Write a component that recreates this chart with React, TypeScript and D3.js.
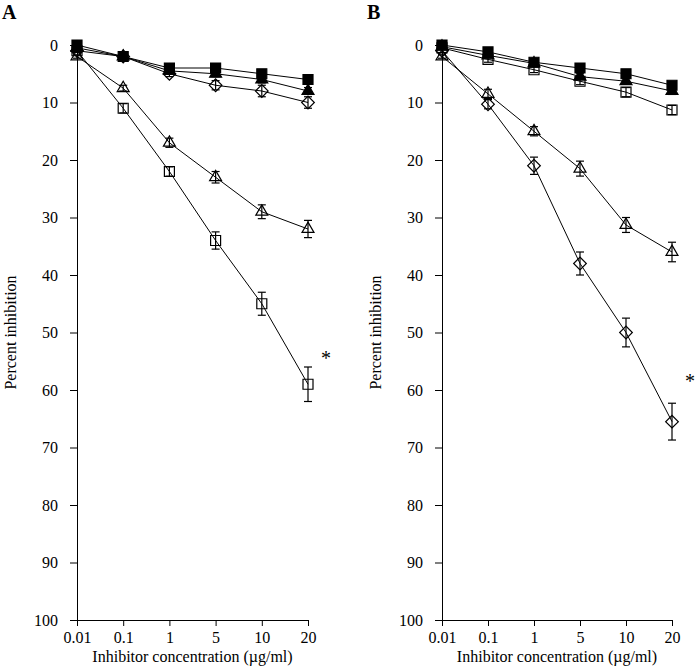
import { useEffect, useRef } from 'react'
import * as d3 from 'd3'

const concentrations = ['0.01', '0.1', '1', '5', '10', '20']
const yTicks = [0, 10, 20, 30, 40, 50, 60, 70, 80, 90, 100]

// Panel A
const aFilledSquare = [0, 2, 4, 4, 5, 6]
const aFilledSquareErr = [0.3, 0.3, 0.3, 0.3, 0.4, 0.4]
const aFilledTriangle = [0.5, 2, 4.5, 5, 6, 8]
const aFilledTriangleErr = [0.3, 0.3, 0.4, 0.5, 0.6, 0.6]
const aOpenDiamond = [1, 2, 5, 7, 8, 10]
const aOpenDiamondErr = [0.2, 0.5, 0.5, 0.8, 1, 1]
const aOpenTriangle = [2, 7.5, 17, 23, 29, 32]
const aOpenTriangleErr = [0.3, 0.5, 0.8, 1, 1.2, 1.5]
const aOpenSquare = [1, 11, 22, 34, 45, 59]
const aOpenSquareErr = [0.3, 0.8, 0.8, 1.5, 2, 3]

// Panel B
const bFilledSquare = [0, 1.2, 3, 4, 5, 7]
const bFilledSquareErr = [0.3, 0.3, 0.3, 0.4, 0.4, 0.5]
const bFilledTriangle = [0.3, 1.8, 3.2, 5.5, 6.3, 8]
const bFilledTriangleErr = [0.3, 0.3, 0.4, 0.5, 0.5, 0.6]
const bOpenSquare = [0.5, 2.5, 4.3, 6.3, 8.2, 11.3]
const bOpenSquareErr = [0.2, 0.5, 0.5, 0.6, 0.8, 0.8]
const bOpenTriangle = [2, 8.5, 15, 21.5, 31.3, 36]
const bOpenTriangleErr = [0.3, 0.8, 0.8, 1.3, 1.3, 1.7]
const bOpenDiamond = [1, 10.3, 21, 38, 50, 65.5]
const bOpenDiamondErr = [0.3, 0.8, 1.5, 2, 2.5, 3.2]

type Marker = 'square' | 'triangle' | 'diamond'
interface Series {
  values: number[]
  err: number[]
  marker: Marker
  filled: boolean
}

const panels = [
  {
    label: 'A',
    x0: 77,
    x1: 308,
    star: 54,
    series: [
      { values: aOpenSquare, err: aOpenSquareErr, marker: 'square', filled: false },
      { values: aOpenTriangle, err: aOpenTriangleErr, marker: 'triangle', filled: false },
      { values: aOpenDiamond, err: aOpenDiamondErr, marker: 'diamond', filled: false },
      { values: aFilledTriangle, err: aFilledTriangleErr, marker: 'triangle', filled: true },
      { values: aFilledSquare, err: aFilledSquareErr, marker: 'square', filled: true },
    ] as Series[],
  },
  {
    label: 'B',
    x0: 442,
    x1: 672,
    star: 58,
    series: [
      { values: bOpenDiamond, err: bOpenDiamondErr, marker: 'diamond', filled: false },
      { values: bOpenTriangle, err: bOpenTriangleErr, marker: 'triangle', filled: false },
      { values: bOpenSquare, err: bOpenSquareErr, marker: 'square', filled: false },
      { values: bFilledTriangle, err: bFilledTriangleErr, marker: 'triangle', filled: true },
      { values: bFilledSquare, err: bFilledSquareErr, marker: 'square', filled: true },
    ] as Series[],
  },
]

const W = 696
const H = 671
const top = 45
const bottom = 620
const font = '"Liberation Serif", "DejaVu Serif", serif'

export default function App() {
  const ref = useRef<SVGSVGElement>(null)

  useEffect(() => {
    if (!ref.current) return
    const svg = d3.select(ref.current)
    svg.selectAll('*').remove()

    const y = d3.scaleLinear().domain([0, 100]).range([top, bottom])

    panels.forEach((p) => {
      const x = d3.scalePoint<string>().domain(concentrations).range([p.x0, p.x1]).padding(0)
      const g = svg.append('g')

      // Y axis
      const ya = g
        .append('g')
        .attr('transform', `translate(${p.x0},0)`)
        .call(d3.axisLeft(y).tickValues(yTicks).tickSize(7).tickPadding(12).tickSizeOuter(0))
      ya.select('.domain').attr('stroke', '#000')
      ya.selectAll('text').style('font', `16px ${font}`).attr('fill', '#000')

      // X axis
      const xa = g
        .append('g')
        .attr('transform', `translate(0,${bottom})`)
        .call(d3.axisBottom(x).tickSize(6).tickPadding(6).tickSizeOuter(0))
      xa.selectAll('text').style('font', `16px ${font}`).attr('fill', '#000')

      // axis titles
      g.append('text')
        .attr('x', (p.x0 + p.x1) / 2)
        .attr('y', 662)
        .attr('text-anchor', 'middle')
        .style('font', `16px ${font}`)
        .text('Inhibitor concentration (µg/ml)')

      g.append('text')
        .attr('transform', `translate(${p.x0 - 61},${(top + bottom) / 2}) rotate(-90)`)
        .attr('text-anchor', 'middle')
        .style('font', `16px ${font}`)
        .text('Percent inhibition')

      // panel letter
      g.append('text')
        .attr('x', p.x0 - 75)
        .attr('y', 19)
        .style('font', `bold 20px ${font}`)
        .text(p.label)

      const line = d3
        .line<number>()
        .x((_, i) => x(concentrations[i])!)
        .y((d) => y(d))

      p.series.forEach((s) => {
        g.append('path')
          .attr('d', line(s.values))
          .attr('fill', 'none')
          .attr('stroke', '#000')
          .attr('stroke-width', 1)
      })

      // error bars
      p.series.forEach((s) => {
        s.values.forEach((v, i) => {
          const cx = x(concentrations[i])!
          const e = s.err[i]
          const eg = g.append('g').attr('stroke', '#000').attr('stroke-width', 1.2)
          eg.append('line').attr('x1', cx).attr('x2', cx).attr('y1', y(v - e)).attr('y2', y(v + e))
          eg.append('line').attr('x1', cx - 4).attr('x2', cx + 4).attr('y1', y(v - e)).attr('y2', y(v - e))
          eg.append('line').attr('x1', cx - 4).attr('x2', cx + 4).attr('y1', y(v + e)).attr('y2', y(v + e))
        })
      })

      // markers
      p.series.forEach((s) => {
        const type = s.marker === 'triangle' ? d3.symbolTriangle : d3.symbolSquare
        const size = s.marker === 'square' ? 100 : s.marker === 'triangle' ? 62 : 80
        const sym = d3.symbol().type(type).size(size)
        s.values.forEach((v, i) => {
          const cx = x(concentrations[i])!
          g.append('path')
            .attr('d', sym()!)
            .attr(
              'transform',
              `translate(${cx},${y(v)})${s.marker === 'diamond' ? ' rotate(45)' : ''}`
            )
            .attr('fill', s.filled ? '#000' : 'none')
            .attr('stroke', '#000')
            .attr('stroke-width', 1.2)
        })
      })

      g.append('text')
        .attr('x', p.x1 + 18)
        .attr('y', y(p.star) + 9)
        .attr('text-anchor', 'middle')
        .style('font', `20px ${font}`)
        .text('*')
    })
  }, [])

  return (
    <svg
      ref={ref}
      width={W}
      height={H}
      style={{ position: 'absolute', left: 0, top: 0, background: '#fff' }}
    />
  )
}
